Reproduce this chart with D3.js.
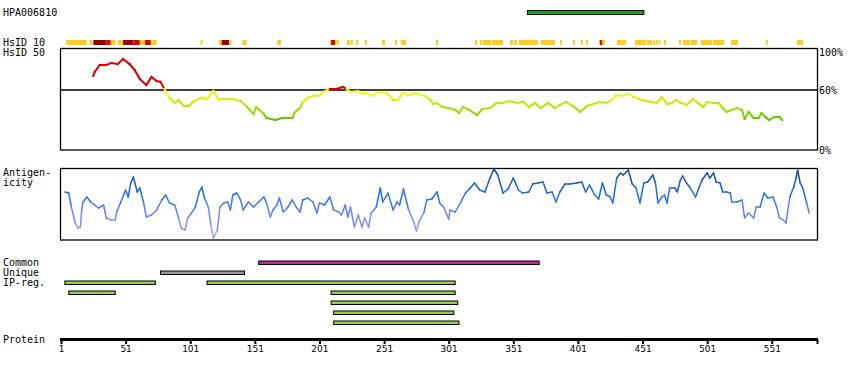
<!DOCTYPE html>
<html><head><meta charset="utf-8">
<script src="https://cdn.jsdelivr.net/npm/d3@7"></script>
<style>
body{margin:0;background:#fff}
svg{display:block}
text{font-family:"DejaVu Sans Mono",monospace;font-size:10px;fill:#000}
.tick text{font-family:"DejaVu Sans",sans-serif;font-size:9px}
</style>
</head><body>
<svg id="c" width="850" height="380"></svg>
<script>
// ---------------- data ----------------
const proteinLength = 586;
const tickLabels = [1, 51, 101, 151, 201, 251, 301, 351, 401, 451, 501, 551];
const antibodyName = "HPA006810";
const antibodyRange = [362, 452];

const hsid10Start = [5,23,26,36,39.5,45,49,57,62,66,70.5,109,123,125.3,131.2,141.3,168.3,209,210,213,214.5,222.3,225.4,229.2,236.2,249.4,259.4,264.1,291.1,321.3,325.2,327.5,334.5,348.4,351.5,355.4,372.4,387.1,397.1,403.3,407.2,417.3,418,419.6,431.2,445.1,454.4,459,461.4,463.7,467.5,479.2,482.3,488.4,496.2,505.5,519.4,546.5,570.5];
const hsid10End   = [21,25,36,39.5,43,49,57,62,66,70.5,75,110.5,125.3,131.2,133,144.7,171.2,210,213,214,216,224.6,227,230.8,237.7,251.7,261,268,292.7,323,326.7,333.7,343,350.7,353.8,370.1,383.2,388.6,398.7,404.9,408.7,418,419.6,421.9,438.1,453.6,458.3,460.6,462.9,464.5,469.1,480.7,487.7,493.1,504.7,514,524.8,548,575.1];
const hsid10Level = [1,1,3,2,1,1,3,2,1,2,1,1,1,3,1,1,1,1,2,1,1,1,1,1,1,1,1,1,1,1,1,1,1,1,1,1,1,1,1,1,1,1,2,1,1,1,1,1,1,1,1,1,1,1,1,1,1,1,1];

const hsid50Pos = [26,27,31,36,40,45,49,54,58,62,67,71,75,78,81,85,89,92,96,100,103,109,114,119,123,124,134,140,145,150,152,158,160,167,172,180,182,186,188,192,196,200,204,209,214,219,222,225,231,234,238,241,247,253,258,262,265,270,275,279,283,287,289,292,296,301,306,309,312,317,323,327,333,338,343,348,354,359,363,368,372,378,383,387,392,397,403,408,413,418,423,427,431,435,440,444,448,453,458,462,466,470,474,477,481,485,490,494,498,501,506,510,513,516,520,524,528,530,533,537,541,543,546,549,553,557,559];
const hsid50Val = [74,78,85,85,87,86,91,86,80,71,65,73,69,68,61,52,47,50,44,44,48,52,51,59,50,51,51,49,43,36,43,36,32,30,32,32,38,42,48,52,54,54,58,61,61,63,61,58,59,56,57,54,58,57,50,50,57,55,57,55,54,50,46,47,43,42,40,37,43,40,35,41,42,47,47,49,47,48,43,47,42,47,42,45,48,44,38,44,46,48,47,50,55,54,56,53,51,49,48,47,53,46,47,50,47,45,51,47,43,48,47,47,42,38,40,42,40,31,38,32,32,37,33,30,33,33,30];

const antigenPos = [4,7,9,12,14,16,17,18,21,24,27,30,34,36,40,43,44,47,51,53,55,57,60,62,65,67,71,75,79,82,85,89,92,94,97,99,102,105,108,110,112,115,117,119,122,124,127,130,132,134,137,140,142,146,150,154,158,160,163,165,168,170,173,176,180,183,186,188,192,196,199,201,205,209,212,216,218,221,223,225,228,231,234,236,239,241,245,248,250,254,258,261,263,266,270,274,276,278,282,284,288,292,294,297,301,302,306,310,314,317,321,325,329,333,336,339,343,347,351,355,358,363,366,374,377,381,384,387,391,395,400,404,407,410,414,417,420,423,426,428,431,434,436,440,443,446,449,452,455,459,461,463,466,468,470,472,476,478,480,482,485,488,492,494,497,501,503,506,508,511,513,516,519,520,524,528,530,533,537,539,542,545,548,552,555,557,560,562,565,568,570,571,573,575,578,580];
const antigenVal = [48,47,33,17,12,13,30,38,43,38,35,32,35,22,20,20,28,37,50,43,57,63,48,52,37,23,25,30,40,45,37,35,22,12,10,22,27,33,48,53,42,33,15,2,10,33,37,38,30,45,47,40,30,38,33,38,43,37,23,30,35,42,28,32,40,33,28,40,42,38,27,37,35,43,30,28,25,35,23,33,13,25,13,22,13,27,33,52,38,47,30,38,35,51,30,18,9,18,28,40,41,48,37,33,21,30,28,37,47,51,57,50,48,62,71,65,47,51,62,50,47,48,56,58,47,48,38,48,56,56,57,58,48,55,45,41,57,45,43,37,62,67,65,70,56,52,37,57,58,65,57,37,43,45,37,52,52,48,59,64,57,52,43,50,60,67,62,67,58,57,48,48,47,38,38,40,22,27,22,33,33,47,42,43,32,22,20,17,43,53,63,70,57,52,37,27];

const commonRange = [154, 371];
const uniqueRange = [78, 143];
const ipRegStart = [4, 114, 7, 210, 210, 212, 212];
const ipRegEnd   = [74, 306, 43, 306, 308, 305, 309];
const ipRegRow   = [0, 0, 1, 1, 2, 3, 4];

// ---------------- drawing ----------------
const svg = d3.select("#c");
const x = d3.scaleLinear().domain([1, proteinLength]).range([61, 817]);
const y50 = d3.scaleLinear().domain([0, 100]).range([150, 50]);
const yAg = d3.scaleLinear().domain([0, 72]).range([240, 168]);

// left labels
const labels = [
  ["HPA006810", 3, 16], ["HsID 10", 3, 46], ["HsID 50", 3, 56],
  ["Antigen-", 3, 176], ["icity", 3, 186],
  ["Common", 3, 266], ["Unique", 3, 275.5], ["IP-reg.", 3, 285.5], ["Protein", 3, 342.5]
];
svg.selectAll("text.lab").data(labels).join("text").attr("class","lab")
  .attr("x", d => d[1]).attr("y", d => d[2]).text(d => d[0]);

// antibody bar
svg.append("rect").attr("x", x(antibodyRange[0])).attr("y", 10.5)
  .attr("width", x(antibodyRange[1]) - x(antibodyRange[0])).attr("height", 4)
  .attr("fill", "#1f9e1f").attr("stroke", "#000").attr("stroke-width", 1);

// HsID 10 strip
const lvlColor = {1: "#ffcc22", 2: "#dd0000", 3: "#990000"};
svg.selectAll("rect.h10").data(hsid10Start.map((s, i) => i)).join("rect").attr("class","h10")
  .attr("x", i => x(hsid10Start[i])).attr("y", 40)
  .attr("width", i => Math.max(1.5, x(hsid10End[i]) - x(hsid10Start[i]))).attr("height", 5)
  .attr("fill", i => lvlColor[hsid10Level[i]]);

// HsID 50 panel
svg.append("rect").attr("x", 60.5).attr("y", 48.5).attr("width", 757).attr("height", 101.5)
  .attr("fill", "none").attr("stroke", "#000").attr("stroke-width", 1.3);
svg.append("line").attr("x1", 60.5).attr("x2", 817.5).attr("y1", y50(60)).attr("y2", y50(60))
  .attr("stroke", "#000").attr("stroke-width", 1.3);
[["100%", 56], ["60%", 94], ["0%", 153.5]].forEach(d => {
  svg.append("text").attr("x", 819).attr("y", d[1]).text(d[0]);
});
const c50 = d3.scaleLinear().domain([30, 40, 50, 60]).range(["#5cbf00", "#99e200", "#d4f000", "#ffff22"]).clamp(true);
const segs50 = hsid50Pos.slice(1).map((p, i) => i);
svg.selectAll("line.h50").data(segs50).join("line").attr("class","h50")
  .attr("x1", i => x(hsid50Pos[i])).attr("x2", i => x(hsid50Pos[i+1]))
  .attr("y1", i => y50(hsid50Val[i])).attr("y2", i => y50(hsid50Val[i+1]))
  .attr("stroke", i => { const v = (hsid50Val[i] + hsid50Val[i+1]) / 2; return v >= 60 ? "#dd0000" : c50(v); })
  .attr("stroke-width", 2).attr("stroke-linecap", "square");

// Antigenicity panel
svg.append("rect").attr("x", 60.5).attr("y", 168.5).attr("width", 757).attr("height", 71.5)
  .attr("fill", "none").attr("stroke", "#000").attr("stroke-width", 1.3);
const cAg = d3.scaleLinear().domain([0, 18, 45, 72]).range(["#b4a6ff", "#8a8cff", "#1f70ee", "#0a3f99"]).clamp(true);
svg.selectAll("line.ag").data(antigenPos.slice(1).map((p, i) => i)).join("line").attr("class","ag")
  .attr("x1", i => x(antigenPos[i])).attr("x2", i => x(antigenPos[i+1]))
  .attr("y1", i => yAg(antigenVal[i])).attr("y2", i => yAg(antigenVal[i+1]))
  .attr("stroke", i => cAg((antigenVal[i] + antigenVal[i+1]) / 2))
  .attr("stroke-width", 1.5).attr("stroke-linecap", "round");

// Common / Unique / IP-reg bars
function bar(r, yTop, fill) {
  svg.append("rect").attr("x", x(r[0])).attr("y", yTop)
    .attr("width", x(r[1]) - x(r[0])).attr("height", 3.5)
    .attr("fill", fill).attr("stroke", "#000").attr("stroke-width", 1);
}
bar(commonRange, 261, "#cc2299");
bar(uniqueRange, 271, "#999999");
ipRegStart.forEach((s, i) => bar([s, ipRegEnd[i]], 281 + ipRegRow[i] * 10, "#99cc55"));

// Protein axis
const axis = d3.axisBottom(x).tickValues(tickLabels.concat([proteinLength]))
  .tickSize(4).tickPadding(3).tickFormat(d => tickLabels.includes(d) ? d : "");
const g = svg.append("g").attr("transform", "translate(0,340)").call(axis);
g.select(".domain").remove();
g.selectAll(".tick line").attr("stroke", "#000").attr("stroke-width", 2);
g.selectAll(".tick text").attr("fill", "#000").attr("dy", "0.6em");
svg.append("line").attr("x1", 60).attr("x2", 818).attr("y1", 339.5).attr("y2", 339.5)
  .attr("stroke", "#000").attr("stroke-width", 3);
</script>
</body></html>
